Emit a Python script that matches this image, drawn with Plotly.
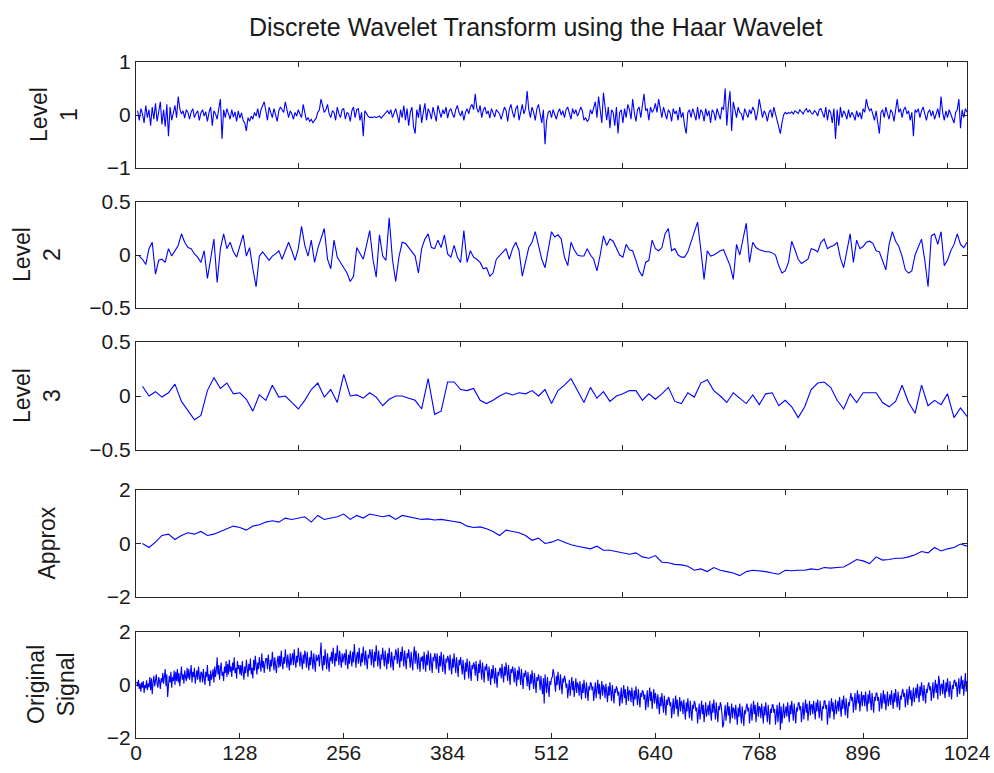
import numpy as np
import plotly.graph_objects as go

# ---------------- data ----------------
level1 = [
    0.08,-0.1,0.12,0.02,-0.15,0.18,-0.05,0.1,-0.2,0.15,-0.08,0.22,-0.12,0.05,0.25,-0.18,
    0.1,-0.22,0.2,-0.4,0.15,-0.1,0.05,0.18,-0.05,0.35,0.12,0.02,0.08,-0.06,0.1,0.05,
    -0.08,0.06,0.12,-0.05,0.03,0.08,-0.1,0.04,0.1,-0.02,0.06,-0.12,0.05,0.15,-0.2,0.08,
    0.02,-0.08,0.12,0.3,-0.45,0.1,-0.05,0.12,0.02,-0.08,0.1,-0.04,0.06,-0.12,0.08,-0.06,
    0.04,-0.1,-0.15,-0.3,-0.05,-0.12,-0.02,-0.08,0.05,-0.02,0.12,-0.06,0.1,0.18,0.25,0.08,
    -0.1,0.15,0.05,-0.05,0.12,0.02,-0.12,0.08,0.15,0.1,0.05,0.25,0.12,-0.05,0.08,0.02,
    -0.08,0.05,-0.02,0.1,0.02,-0.05,0.2,0.05,-0.1,-0.05,-0.12,-0.08,-0.15,-0.1,-0.06,0.05,
    0.1,0.3,0.15,0.05,0.1,0.2,0.02,-0.05,0.08,0.05,-0.1,0.15,0.02,-0.05,0.1,0.12,
    -0.08,0.05,0.02,-0.12,0.08,0.15,-0.05,0.1,0.12,-0.1,0.05,-0.4,0.08,0.02,-0.02,-0.05,
    -0.04,-0.05,-0.03,-0.05,-0.04,-0.02,-0.06,-0.03,0.02,0.05,0.08,0.02,0.1,-0.05,0.06,0.12,
    0.0,-0.15,0.1,-0.05,0.18,-0.1,0.12,-0.2,0.05,0.15,-0.22,-0.35,0.1,-0.05,0.2,-0.15,
    0.05,0.22,-0.1,0.12,0.05,-0.08,0.15,0.02,-0.12,0.18,0.08,-0.05,0.1,0.02,0.15,-0.06,
    0.08,0.12,0.02,-0.05,0.1,0.18,0.05,-0.02,0.08,-0.1,0.05,0.12,0.02,0.15,0.2,0.1,
    0.4,0.12,0.05,0.18,-0.05,0.1,0.15,0.02,0.08,-0.06,0.12,0.05,-0.04,0.1,0.06,0.02,
    -0.08,0.05,0.15,0.08,-0.12,0.1,0.2,0.05,-0.05,0.12,0.18,-0.1,0.08,0.2,0.02,0.12,
    0.45,0.1,-0.05,0.15,0.05,-0.1,0.12,0.2,0.02,-0.15,0.1,-0.55,-0.1,0.05,0.08,-0.05,
    0.1,0.02,-0.08,0.05,0.12,0.0,0.08,-0.05,0.1,0.15,0.05,-0.08,0.12,0.02,0.1,-0.02,
    0.05,0.15,0.08,-0.1,-0.05,-0.12,-0.08,0.1,0.02,0.15,0.25,-0.05,0.35,0.1,-0.15,0.42,
    0.2,-0.1,0.15,-0.25,0.1,0.05,-0.2,0.15,-0.35,0.05,0.1,-0.15,0.12,-0.05,0.2,0.1,
    -0.08,0.3,0.05,-0.12,0.1,0.15,-0.05,0.2,0.4,0.08,0.12,-0.1,0.15,0.05,0.1,0.22,
    0.05,0.3,0.1,-0.05,0.15,0.02,-0.08,0.1,0.05,-0.12,0.12,0.02,0.08,-0.1,0.15,-0.05,
    0.05,-0.2,-0.35,0.05,0.1,-0.05,0.12,0.02,-0.1,0.15,-0.08,0.1,0.05,-0.12,0.12,-0.02,
    0.08,-0.15,0.1,0.05,-0.1,0.12,0.02,-0.08,0.15,0.1,0.5,-0.2,0.2,0.45,-0.3,0.25,
    0.1,-0.05,0.15,0.05,0.02,-0.1,0.12,0.05,-0.05,0.1,0.02,0.15,0.08,-0.1,0.05,0.3,
    0.1,-0.05,0.08,0.02,-0.12,0.05,0.1,-0.05,0.15,0.02,-0.1,-0.2,-0.35,-0.15,0.0,0.05,
    0.02,0.05,0.03,0.06,0.02,0.08,0.05,0.03,0.1,0.06,0.02,0.08,0.12,0.05,0.1,0.04,
    0.02,0.08,0.05,-0.02,0.1,0.12,0.05,-0.05,0.15,-0.1,0.1,0.05,-0.15,0.12,-0.45,0.1,
    -0.2,0.15,-0.05,0.08,0.02,-0.08,0.1,-0.05,0.05,0.0,-0.1,0.08,-0.04,0.05,-0.08,0.12,
    0.05,0.3,0.15,0.08,0.12,0.02,-0.1,0.08,-0.15,-0.35,0.05,0.1,-0.05,0.15,0.02,-0.08,
    0.1,0.05,-0.12,0.15,0.3,0.05,0.12,-0.05,0.1,0.15,0.02,0.08,-0.1,0.05,-0.4,0.1,
    0.05,0.12,-0.05,0.08,0.15,0.02,-0.1,0.05,0.1,-0.02,0.08,-0.08,0.05,0.12,-0.05,0.35,
    0.05,-0.1,0.08,-0.05,0.1,0.02,-0.08,-0.15,0.05,0.1,0.3,-0.25,0.1,-0.05,0.12,0.05,
]

level2 = [
    -0.01,-0.04,-0.09,0.06,0.12,-0.18,-0.05,-0.04,-0.07,0.06,-0.01,0.04,0.09,0.2,0.12,0.07,
    0.06,0.01,-0.02,-0.07,0.04,-0.22,-0.04,0.15,-0.26,0.06,0.2,0.06,0.12,0.03,-0.02,0.09,
    0.19,-0.01,0.07,-0.13,-0.3,-0.01,0.03,-0.01,-0.05,-0.01,0.01,0.04,-0.04,0.04,0.12,0.04,
    -0.05,0.06,0.27,0.09,-0.01,0.14,-0.07,0.06,0.15,0.25,-0.04,-0.13,0.14,-0.02,-0.07,-0.12,
    -0.17,-0.25,-0.2,0.07,0.01,-0.04,0.09,0.23,-0.04,-0.21,0.19,-0.01,-0.05,0.35,-0.04,-0.25,
    -0.02,0.12,0.11,0.07,0.04,-0.01,-0.17,0.06,0.15,0.2,0.07,0.06,0.14,0.07,0.19,0.01,
    -0.02,0.09,-0.02,-0.07,0.23,-0.07,0.04,-0.02,-0.04,-0.07,-0.13,-0.12,-0.2,-0.17,-0.04,-0.01,
    0.03,0.06,-0.04,0.06,0.12,0.04,-0.2,-0.07,0.07,0.12,0.22,0.09,-0.04,-0.12,0.06,0.22,
    0.17,0.19,0.15,-0.02,-0.1,0.12,0.05,0.0,-0.01,-0.01,0.06,0.0,-0.04,-0.15,0.0,0.18,
    0.09,0.15,0.13,0.06,0.0,-0.02,0.1,0.05,0.04,-0.05,-0.15,-0.2,-0.07,-0.05,0.14,0.06,
    0.04,0.07,0.2,0.25,0.04,0.06,0.0,-0.02,-0.02,0.03,0.12,0.2,0.31,0.05,-0.23,0.04,
    -0.01,0.0,0.02,0.04,0.05,-0.02,-0.1,-0.23,0.1,0.0,0.15,0.3,-0.07,0.12,0.07,0.05,
    0.04,0.03,0.03,0.02,0.0,-0.1,-0.17,-0.15,-0.07,0.13,0.05,-0.04,-0.08,-0.06,-0.04,0.06,
    0.05,0.03,0.12,0.15,0.06,0.08,0.09,0.12,-0.03,-0.12,0.06,0.2,-0.07,0.14,0.06,0.08,
    0.12,0.13,0.11,0.04,0.03,-0.06,-0.14,0.1,0.22,0.13,0.08,-0.01,-0.14,-0.17,-0.15,0.0,
    0.07,0.15,-0.05,-0.3,0.18,0.2,0.1,0.22,-0.1,-0.05,0.04,0.1,0.2,0.1,0.07,0.12,
]

level3 = [
    0.09,0.0,0.04,-0.01,0.03,0.11,-0.05,-0.13,-0.22,-0.18,0.05,0.17,0.07,0.12,0.02,0.03,
    -0.03,-0.14,0.01,-0.04,0.1,-0.01,0.0,-0.06,-0.12,-0.04,0.06,0.12,-0.01,0.06,-0.06,0.2,
    0.0,0.01,-0.02,0.03,-0.01,-0.09,-0.03,0.0,0.0,-0.02,-0.04,-0.12,0.16,-0.17,-0.14,0.13,
    0.13,0.06,0.05,0.07,-0.04,-0.07,-0.04,0.0,0.03,0.01,0.03,0.02,0.05,0.0,0.06,-0.07,
    0.05,0.1,0.16,0.05,-0.06,0.08,-0.02,0.04,-0.05,0.0,0.02,0.05,0.05,-0.04,0.02,-0.03,
    0.02,0.08,-0.05,-0.07,0.03,-0.01,0.12,0.15,0.05,0.0,-0.06,0.03,-0.02,-0.07,0.01,-0.08,
    0.02,0.03,-0.09,-0.04,-0.1,-0.2,-0.1,0.06,0.12,0.13,0.08,-0.04,-0.12,0.02,-0.06,0.03,
    0.03,0.03,-0.06,-0.1,-0.05,0.1,-0.06,-0.16,0.1,-0.09,-0.04,-0.08,0.02,-0.2,-0.11,-0.19,
]

approx = [
    0.0,-0.15,0.05,0.3,0.35,0.15,0.3,0.4,0.35,0.45,0.3,0.35,0.45,0.55,0.65,0.6,
    0.5,0.65,0.7,0.8,0.85,0.8,0.95,0.9,0.95,1.0,0.8,1.05,0.9,0.95,1.0,1.1,
    0.9,1.05,0.95,1.1,1.05,1.0,1.05,0.9,1.05,1.0,0.95,0.9,0.92,0.88,0.9,0.85,
    0.82,0.78,0.65,0.6,0.62,0.55,0.45,0.3,0.5,0.45,0.4,0.3,0.12,0.2,0.0,0.05,
    0.15,0.05,-0.05,-0.1,-0.15,-0.2,-0.1,-0.25,-0.25,-0.3,-0.35,-0.4,-0.35,-0.5,-0.55,-0.45,
    -0.7,-0.72,-0.78,-0.8,-0.85,-1.0,-0.95,-1.05,-0.9,-1.0,-1.05,-1.1,-1.2,-1.05,-1.0,-1.02,
    -1.05,-1.1,-1.15,-1.0,-1.02,-1.0,-1.0,-0.95,-0.98,-0.9,-0.92,-0.9,-0.88,-0.75,-0.6,-0.65,
    -0.75,-0.5,-0.62,-0.6,-0.55,-0.55,-0.5,-0.42,-0.3,-0.35,-0.15,-0.28,-0.2,-0.15,-0.02,-0.1,
]

original_signal = [
    0.12,-0.05,0.2,-0.15,0.05,-0.25,0.1,-0.1,0.15,-0.3,0.0,-0.12,0.18,-0.2,0.05,-0.08,
    0.3,-0.2,0.25,-0.35,0.1,0.35,-0.05,0.2,0.4,0.05,-0.1,0.3,0.15,-0.15,0.25,0.1,
    0.45,0.05,0.3,0.6,-0.05,0.4,-0.45,0.2,0.35,0.1,0.5,-0.1,0.3,0.15,0.55,0.0,
    0.5,0.15,0.6,0.1,0.45,-0.05,0.35,0.7,0.2,0.4,0.05,0.55,0.3,0.15,0.65,0.25,
    0.6,0.2,0.45,0.75,0.1,0.5,0.3,0.65,0.05,0.4,0.55,0.2,0.7,0.35,0.1,0.5,
    0.45,0.1,0.6,0.25,0.0,0.5,0.3,0.75,0.15,0.4,-0.05,0.55,0.2,0.35,0.6,0.1,
    0.7,0.3,0.55,1.05,0.4,0.75,0.2,0.6,0.85,0.35,0.5,0.15,0.7,0.45,0.9,0.3,
    0.8,0.4,0.95,0.5,0.7,0.3,0.85,0.55,1.05,0.45,0.65,0.25,0.9,0.6,0.75,0.4,
    0.75,0.35,0.9,0.5,0.2,0.7,0.45,0.95,0.6,0.3,0.8,0.55,1.0,0.4,0.65,0.25,
    0.95,0.55,1.1,0.7,0.4,0.85,0.6,1.05,0.75,0.5,1.2,0.65,0.9,0.45,0.8,1.0,
    1.0,0.6,1.15,0.8,0.5,0.95,0.7,1.25,0.85,0.55,1.05,0.75,0.45,0.9,1.1,0.65,
    1.1,0.7,1.3,0.85,0.6,1.05,0.8,1.35,0.95,0.65,1.15,0.9,0.55,1.2,0.75,1.0,
    1.2,0.75,1.35,0.9,0.65,1.1,0.85,1.4,1.0,0.7,1.25,0.95,0.6,1.15,0.8,1.3,
    1.1,0.65,1.25,0.85,0.55,1.05,0.75,1.3,0.95,0.6,1.2,0.8,0.5,1.15,0.9,1.0,
    1.15,0.7,1.3,1.6,0.8,0.55,1.1,0.75,1.35,0.95,0.6,1.2,0.85,0.5,1.05,0.9,
    1.25,0.8,1.4,1.0,0.7,1.2,0.9,1.5,1.05,0.75,1.3,0.95,0.65,1.2,0.85,1.1,
    1.2,0.75,1.35,0.9,0.6,1.15,0.8,1.3,0.95,0.7,1.25,0.85,1.55,1.0,0.65,1.1,
    1.25,0.8,1.4,0.95,0.7,1.2,0.85,1.45,1.05,0.75,1.3,0.9,0.6,1.15,1.0,1.35,
    1.2,0.75,1.35,1.0,0.65,1.25,0.9,1.5,1.05,0.7,1.3,0.85,0.6,1.15,0.95,1.4,
    1.15,0.7,1.3,0.9,0.6,1.2,0.8,1.4,1.0,0.65,1.25,0.85,0.55,1.1,0.95,1.35,
    1.2,0.8,1.4,0.95,0.65,1.25,0.9,1.45,1.05,0.7,1.3,0.85,0.6,1.2,1.0,1.35,
    1.1,0.65,1.25,0.85,0.55,1.15,1.45,0.8,1.3,0.95,0.6,1.2,0.75,0.5,1.05,0.9,
    1.1,0.6,1.25,0.85,0.5,1.15,0.75,1.3,0.95,0.55,1.2,0.8,0.45,1.05,0.9,1.2,
    1.05,0.6,1.2,0.8,0.45,1.1,0.7,1.25,0.9,0.5,1.15,0.75,0.4,1.0,0.85,1.1,
    1.0,0.55,1.15,0.7,0.4,1.0,0.65,1.2,0.8,0.45,1.05,0.6,0.3,0.95,0.75,1.05,
    0.8,0.4,0.95,0.55,0.2,0.85,0.5,1.0,0.65,0.25,0.9,0.45,0.15,0.75,0.6,0.85,
    0.75,0.35,0.9,0.5,0.15,0.8,0.45,0.95,0.6,0.2,0.85,0.4,0.1,0.7,0.55,0.8,
    0.55,0.15,0.7,0.3,0.0,0.6,0.25,0.75,0.4,0.05,0.65,0.2,-0.1,0.5,0.35,0.6,
    0.65,0.25,0.8,0.4,0.1,0.7,0.35,0.85,0.5,0.15,0.75,0.3,0.0,0.6,0.45,0.7,
    0.5,0.1,0.65,0.3,-0.05,0.55,0.2,0.7,0.35,0.0,0.6,0.15,-0.15,0.45,0.3,0.55,
    0.35,-0.05,0.5,0.1,-0.2,0.4,0.05,0.55,0.2,-0.15,0.45,0.0,-0.3,0.3,0.15,0.4,
    0.2,-0.2,0.35,-0.05,-0.35,0.25,-0.7,0.4,0.05,-0.3,0.3,-0.15,-0.45,0.15,0.0,0.25,
    0.3,0.6,0.45,0.05,-0.25,0.35,0.0,0.5,0.15,-0.2,0.4,-0.05,-0.35,0.25,0.1,0.35,
    0.2,-0.1,0.05,-0.5,-0.25,0.2,-0.4,-0.05,0.3,-0.2,0.15,-0.45,-0.15,0.25,-0.3,0.1,
    0.0,-0.4,0.15,-0.25,-0.55,0.05,-0.3,0.2,-0.15,-0.5,0.1,-0.35,-0.6,-0.05,-0.2,0.1,
    0.05,-0.2,-0.05,-0.6,-0.3,0.1,-0.5,-0.1,0.2,-0.35,0.05,-0.55,-0.25,0.15,-0.4,0.0,
    -0.1,-0.5,0.05,-0.35,-0.65,-0.05,-0.4,0.1,-0.25,-0.6,0.0,-0.45,-0.7,-0.15,-0.3,-0.05,
    -0.15,-0.4,-0.25,-0.8,-0.55,-0.1,-0.7,-0.35,0.0,-0.5,-0.15,-0.75,-0.45,-0.05,-0.6,-0.2,
    -0.25,-0.65,-0.1,-0.5,-0.8,-0.2,-0.55,-0.05,-0.4,-0.75,-0.15,-0.6,-0.85,-0.3,-0.45,-0.2,
    -0.25,-0.55,-0.35,-0.95,-0.65,-0.2,-0.85,-0.45,-0.1,-0.6,-0.25,-0.9,-0.55,-0.15,-0.7,-0.3,
    -0.5,-0.9,-0.35,-0.75,-1.1,-0.45,-0.8,-0.3,-0.65,-1.05,-0.4,-0.85,-1.15,-0.55,-0.75,-0.45,
    -0.5,-0.8,-0.65,-1.25,-0.95,-0.5,-1.1,-0.75,-0.4,-0.9,-0.55,-1.2,-0.85,-0.45,-1.0,-0.6,
    -0.7,-1.1,-0.55,-0.95,-1.3,-0.65,-1.0,-0.5,-0.85,-1.25,-0.6,-1.05,-1.35,-0.75,-0.9,-0.6,
    -0.7,-1.0,-0.85,-1.45,-1.15,-0.7,-1.3,-0.95,-0.6,-1.1,-0.75,-1.4,-1.05,-0.65,-1.2,-0.8,
    -0.75,-1.15,-0.6,-1.0,-1.35,-0.7,-1.05,-0.55,-0.9,-1.3,-0.65,-1.1,-1.4,-0.8,-0.95,-0.65,
    -0.75,-1.05,-1.6,-1.5,-1.2,-0.75,-1.35,-1.0,-0.65,-1.15,-0.8,-1.45,-1.1,-0.7,-1.25,-0.85,
    -0.9,-1.3,-0.75,-1.15,-1.5,-0.85,-1.2,-0.7,-1.05,-1.45,-0.8,-1.25,-1.55,-0.95,-1.1,-0.8,
    -0.7,-1.0,-0.85,-1.45,-1.15,-0.7,-1.35,-0.95,-0.6,-1.1,-0.75,-1.4,-1.05,-0.65,-1.2,-0.8,
    -0.85,-1.25,-0.7,-1.1,-1.45,-0.8,-1.15,-0.65,-1.0,-1.4,-0.75,-1.2,-1.5,-0.9,-1.05,-0.75,
    -0.75,-1.05,-0.9,-1.5,-1.2,-0.75,-1.4,-1.0,-0.65,-1.7,-0.8,-1.45,-1.1,-0.7,-1.25,-0.85,
    -0.8,-1.2,-0.65,-1.05,-1.4,-0.75,-1.1,-0.6,-0.95,-1.35,-0.7,-1.15,-1.45,-0.85,-1.0,-0.7,
    -0.65,-0.95,-0.8,-1.4,-1.1,-0.65,-1.3,-0.9,-0.55,-1.05,-0.7,-1.35,-1.0,-0.6,-1.15,-0.75,
    -0.75,-1.1,-0.6,-0.95,-1.3,-0.65,-1.0,-0.55,-0.9,-1.25,-0.6,-1.05,-1.35,-0.8,-0.9,-0.6,
    -0.6,-0.9,-0.75,-1.5,-1.05,-0.6,-1.25,-0.85,-0.5,-1.0,-0.65,-1.3,-0.95,-0.55,-1.1,-0.7,
    -0.6,-1.0,-0.45,-0.85,-1.2,-0.55,-0.9,-0.4,-0.75,-1.15,-0.5,-0.95,-1.25,-0.65,-0.8,-0.5,
    -0.3,-0.6,-0.45,-1.05,-0.75,-0.3,-0.95,-0.55,-0.2,-0.7,-0.35,-1.0,-0.65,-0.25,-0.8,-0.4,
    -0.4,-0.8,-0.25,-0.65,-1.0,-0.35,-0.7,-0.2,-0.55,-0.95,-0.3,-0.75,-1.05,-0.45,-0.6,-0.3,
    -0.3,-0.6,-0.45,-1.0,-0.75,-0.3,-0.9,-0.55,-0.2,-0.7,-0.35,-0.95,-0.6,-0.25,-0.8,-0.4,
    -0.35,-0.75,-0.2,-0.55,-0.9,-0.3,-0.65,-0.15,-0.5,-0.85,-0.25,-0.7,-0.95,-0.4,-0.55,-0.25,
    -0.15,-0.45,-0.3,-0.85,-0.6,-0.15,-0.75,-0.4,-0.05,-0.55,-0.2,-0.8,-0.5,-0.1,-0.65,-0.25,
    -0.1,-0.5,0.05,-0.35,-0.65,-0.05,-0.4,0.1,-0.25,-0.6,0.0,-0.45,-0.7,-0.15,-0.3,0.0,
    0.1,-0.2,-0.05,-0.6,-0.35,0.1,-0.5,-0.15,0.2,-0.3,0.05,-0.55,0.35,0.15,-0.4,0.0,
    0.05,-0.35,0.2,-0.2,-0.5,0.1,-0.25,0.25,-0.1,-0.45,0.15,-0.3,-0.55,0.0,-0.15,0.15,
    0.2,-0.05,0.1,-0.45,-0.2,0.25,-0.35,0.0,0.35,-0.15,0.2,-0.4,-0.1,0.45,-0.25,0.15,
]

panel_labels = ["Level<br>1", "Level<br>2", "Level<br>3", "Approx", "Original<br>Signal"]
x_tick_vals = [0, 128, 256, 384, 512, 640, 768, 896, 1024]
x_tick_text = ["0", "128", "256", "384", "512", "640", "768", "896", "1024"]
y_tick_sets = [
    ([-1, 0, 1], ["\u22121", "0", "1"]),
    ([-0.5, 0, 0.5], ["\u22120.5", "0", "0.5"]),
    ([-0.5, 0, 0.5], ["\u22120.5", "0", "0.5"]),
    ([-2, 0, 2], ["\u22122", "0", "2"]),
    ([-2, 0, 2], ["\u22122", "0", "2"]),
]
title_text = "Discrete Wavelet Transform using the Haar Wavelet"

# ---------------- layout geometry (pixels of the 994x773 page) ----------------
W, H = 994, 773
PLOT_L, PLOT_R = 136, 967
panel_px = [(62, 168), (202, 308), (342, 450), (490, 597), (632, 738)]
label_x_px = [54, 37, 37, 46, 51]
FONT = "Liberation Sans, Arial, Helvetica, sans-serif"
AX_COL = "#262626"
TXT_COL = "#1a1a1a"

series = [level1, level2, level3, approx, original_signal]

fig = go.Figure()
layout = dict(
    width=W, height=H,
    margin=dict(l=0, r=0, t=0, b=0),
    paper_bgcolor="white", plot_bgcolor="white",
    showlegend=False,
    font=dict(family=FONT, size=21, color=TXT_COL),
)

annotations = []
for k, vals in enumerate(series):
    n = len(vals)
    xs = np.arange(1, n + 1)
    suffix = "" if k == 0 else str(k + 1)
    fig.add_trace(go.Scatter(
        x=xs, y=vals, mode="lines",
        line=dict(color="rgb(0,0,255)", width=1.1),
        xaxis="x" + suffix, yaxis="y" + suffix,
        hoverinfo="skip",
    ))
    top, bot = panel_px[k]
    ydom = [1 - bot / H, 1 - top / H]
    xdom = [PLOT_L / W, PLOT_R / W]
    if k == 4:
        xt = dict(tickvals=x_tick_vals, ticktext=x_tick_text, showticklabels=True,
                  ticklabelstandoff=-4)
        xrange = [0, 1024]
    else:
        step = n * 100 // 512
        xt = dict(tickvals=[step * j for j in range(1, 6)], showticklabels=False)
        xrange = [0, n]
    layout["xaxis" + suffix] = dict(
        domain=xdom, range=xrange, anchor="y" + suffix,
        showline=True, linecolor=AX_COL, linewidth=1.3, mirror="ticks",
        ticks="inside", ticklen=5, tickcolor=AX_COL, tickwidth=1,
        showgrid=False, zeroline=False, automargin=False,
        tickfont=dict(family=FONT, size=21, color=TXT_COL),
        **xt,
    )
    tv, tt = y_tick_sets[k]
    layout["yaxis" + suffix] = dict(
        domain=ydom, range=[tv[0], tv[-1]], anchor="x" + suffix,
        tickvals=tv, ticktext=tt,
        showline=True, linecolor=AX_COL, linewidth=1.3, mirror="ticks",
        ticks="inside", ticklen=5, tickcolor=AX_COL, tickwidth=1,
        showgrid=False, zeroline=False, automargin=False,
        tickfont=dict(family=FONT, size=21, color=TXT_COL),
    )
    annotations.append(dict(
        text=panel_labels[k], textangle=-90,
        x=label_x_px[k] / W, y=1 - (top + bot) / 2 / H,
        xref="paper", yref="paper", xanchor="center", yanchor="middle",
        showarrow=False, font=dict(family=FONT, size=23, color=TXT_COL),
    ))

annotations.append(dict(
    text=title_text, x=535 / W, y=1 - 27 / H, xref="paper", yref="paper",
    xanchor="center", yanchor="middle", showarrow=False,
    font=dict(family=FONT, size=25, color=TXT_COL),
))
layout["annotations"] = annotations
fig.update_layout(**layout)
fig.write_html("out.html")
